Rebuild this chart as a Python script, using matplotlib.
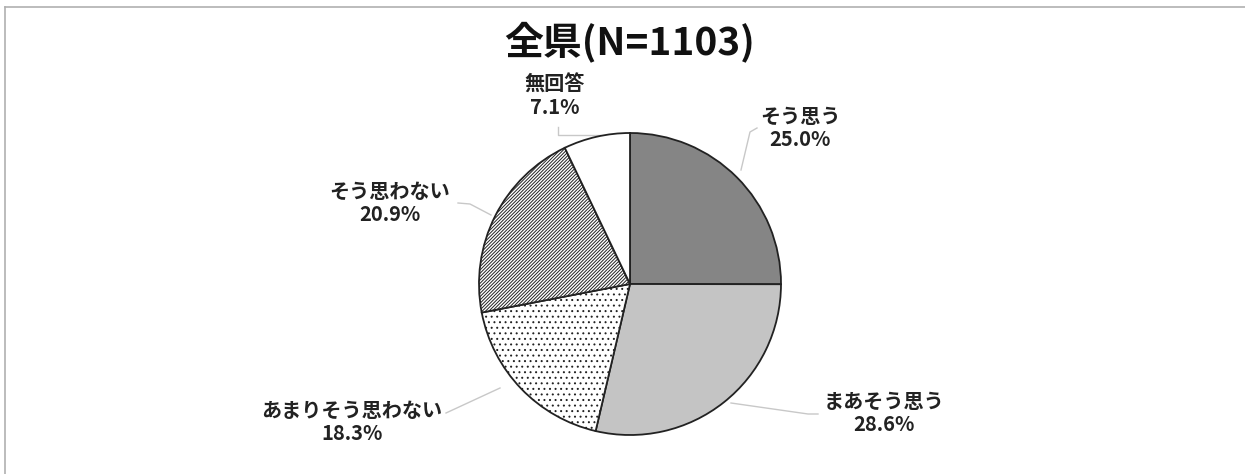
import matplotlib.pyplot as plt
from matplotlib.lines import Line2D

plt.rcParams['font.family'] = ['Noto Sans CJK JP', 'DejaVu Sans']
plt.rcParams['hatch.linewidth'] = 0.7

title = "全県(N=1103)"
categories = ["そう思う", "まあそう思う", "あまりそう思わない", "そう思わない", "無回答"]
shares = [25.0, 28.6, 18.3, 20.9, 7.1]

colors = ["#858585", "#c4c4c4", "white", "white", "white"]
hatches = [None, None, "...", "//////////", None]

# pixel layout of the reference (center 630,284 / radius 151)
CX, CY, R = 630, 284, 151
W, H = 1245, 474


def px(x, y):
    return (x - CX) / R, (CY - y) / R


label_pos = [(800, 128), (884, 413), (352, 422), (390, 203), (555, 96)]
# leader lines: text side point, pie side point
leaders = [
    [(757, 128), (750, 132), (741, 170)],
    [(818, 414), (808, 414), (731, 403)],
    [(446, 413), (500, 388)],
    [(458, 203), (470, 204), (491, 215)],
    [(558, 127), (558, 135), (600, 135)],
]

fig = plt.figure(figsize=(W / 100, H / 100), dpi=100)
ax = fig.add_axes([0, 0, 1, 1])

wedges, _ = ax.pie(shares, colors=colors, startangle=90, counterclock=False,
                   radius=1, center=(0, 0), frame=True,
                   wedgeprops=dict(edgecolor="#222222", linewidth=1.3))
for w, h in zip(wedges, hatches):
    if h:
        w.set_hatch(h)
ax.set_xlim((0 - CX) / R, (W - CX) / R)
ax.set_ylim((CY - H) / R, CY / R)
ax.set_aspect("auto")
ax.axis("off")

for pts in leaders:
    xs, ys = zip(*[px(*p) for p in pts])
    ax.plot(xs, ys, color="#c8c8c8", lw=1.0, zorder=0)

for cat, val, (lx, ly) in zip(categories, shares, label_pos):
    x, y = px(lx, ly)
    ax.text(x, y, f"{cat}\n{val:.1f}%", ha="center", va="center",
            fontsize=14.5, fontweight="bold", linespacing=1.1, color="#222222")

fig.text(630 / W, 1 - 42 / H, title, ha="center", va="center",
         fontsize=28, fontweight="bold", color="#111111")

# frame lines (top and left only)
fig.add_artist(Line2D([5 / W, 1], [1 - 7 / H, 1 - 7 / H], color="#b0b0b0", lw=1.2,
                      transform=fig.transFigure))
fig.add_artist(Line2D([5 / W, 5 / W], [0, 1 - 7 / H], color="#b0b0b0", lw=1.2,
                      transform=fig.transFigure))

fig.savefig("out.png", dpi=100, facecolor="white")
